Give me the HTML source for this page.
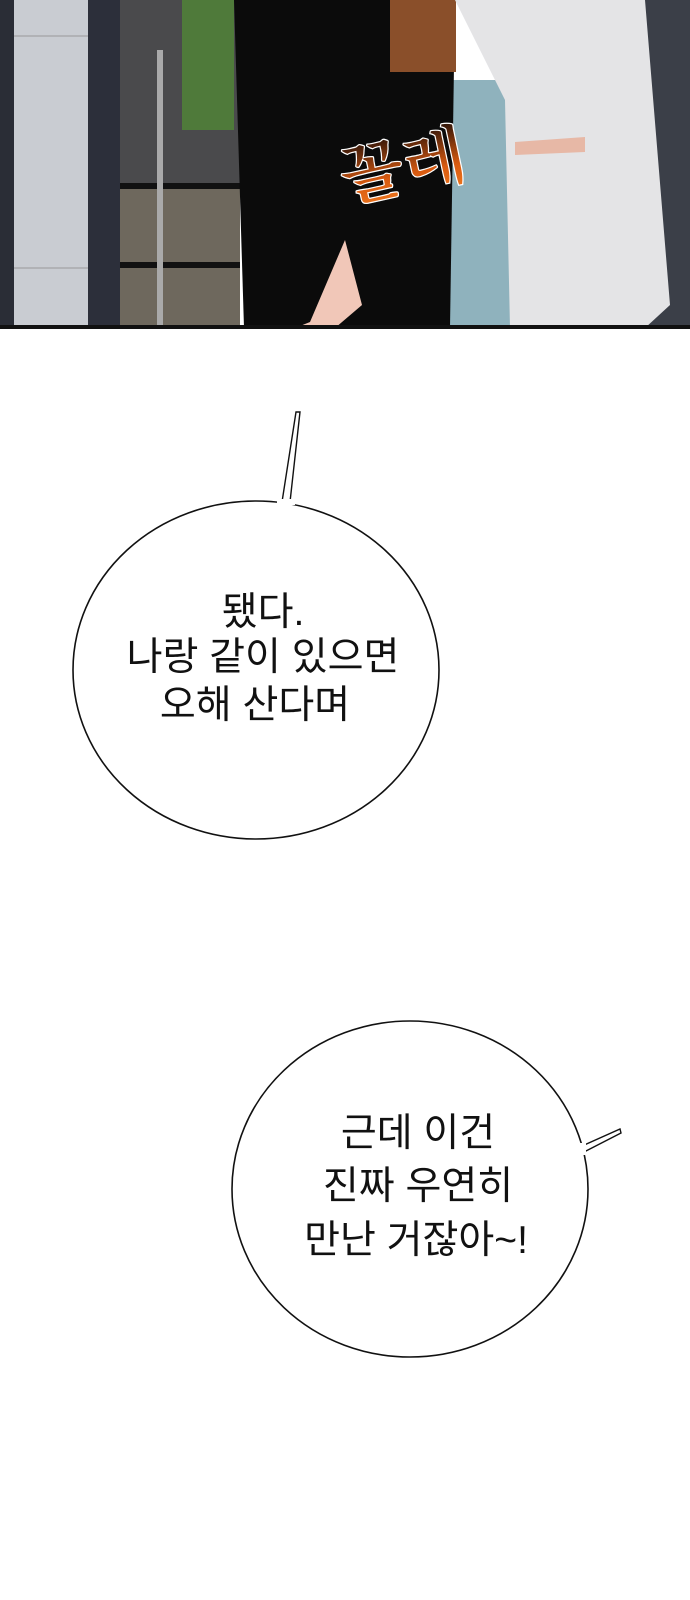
<!DOCTYPE html>
<html><head><meta charset="utf-8"><style>
html,body{margin:0;padding:0;background:#fff}
body{width:690px;height:1600px;position:relative;overflow:hidden}
svg{position:absolute;left:0;top:0}
.t{font-family:"Liberation Sans","Noto Sans CJK KR",sans-serif;font-size:39px;fill:#111;text-anchor:middle}
</style></head><body>
<svg width="690" height="1600" viewBox="0 0 690 1600">
<defs><linearGradient id="g" x1="0" y1="0" x2="0" y2="1"><stop offset="0" stop-color="#2a1208"/><stop offset="0.6" stop-color="#d85a10"/><stop offset="1" stop-color="#f07a20"/></linearGradient></defs>
<rect x="0" y="0" width="690" height="328" fill="#fff"/>
<rect x="0" y="0" width="14" height="328" fill="#2a2d36"/>
<rect x="14" y="0" width="74" height="328" fill="#c9ccd2"/>
<line x1="14" y1="36" x2="88" y2="36" stroke="#999"/>
<line x1="14" y1="268" x2="88" y2="268" stroke="#999"/>
<rect x="88" y="0" width="32" height="328" fill="#2c2f3a"/>
<rect x="120" y="0" width="120" height="328" fill="#4a4a4c"/>
<rect x="120" y="183" width="120" height="145" fill="#6e685d"/>
<rect x="182" y="0" width="52" height="130" fill="#4f7a3a"/>
<rect x="120" y="183" width="120" height="6" fill="#111"/>
<rect x="120" y="262" width="120" height="6" fill="#111"/>
<rect x="157" y="50" width="6" height="275" fill="#aaa"/>
<rect x="435" y="80" width="80" height="248" fill="#8fb2bd"/>
<rect x="645" y="0" width="45" height="328" fill="#3b3f48"/>
<path d="M234 0 L455 0 L450 328 L244 328 Z" fill="#0b0b0b"/>
<path d="M295 328 L310 322 L345 240 L362 305 L335 328 Z" fill="#f1c7b8"/>
<rect x="390" y="0" width="66" height="72" fill="#8a4f2a"/>
<path d="M455 0 L645 0 L670 305 L645 328 L510 328 L505 100 Z" fill="#e4e4e6"/>
<path d="M515 142 L585 137 L585 152 L515 155 Z" fill="#e7b8a6"/>
<text x="340" y="190" font-family="Liberation Serif,'Noto Serif CJK SC',serif" font-size="66" font-weight="bold" fill="url(#g)" stroke="#fff" stroke-width="1.2" transform="rotate(-12 400 170)">꼴레</text>
<rect x="0" y="325" width="690" height="4" fill="#111"/>

<ellipse cx="256" cy="670" rx="183" ry="169" fill="#fff" stroke="#111" stroke-width="1.6"/>
<path d="M282 502 L296 412 L300 412 L290 502 Z" fill="#fff" stroke="#111" stroke-width="1.4"/>
<rect x="277" y="499" width="18" height="6" fill="#fff"/>
<text class="t" x="263" y="625">됐다.</text>
<text class="t" x="263" y="670">나랑 같이 있으면</text>
<text class="t" x="255" y="718">오해 산다며</text>

<ellipse cx="410" cy="1189" rx="178" ry="168" fill="#fff" stroke="#111" stroke-width="1.6"/>
<path d="M582 1146 L620 1129 L621 1133 L584 1152 Z" fill="#fff" stroke="#111" stroke-width="1.4"/>
<rect x="577" y="1143" width="9" height="12" fill="#fff"/>
<text class="t" x="418" y="1146">근데 이건</text>
<text class="t" x="418" y="1199">진짜 우연히</text>
<text class="t" x="416" y="1253">만난 거잖아~!</text>
</svg>
</body></html>
